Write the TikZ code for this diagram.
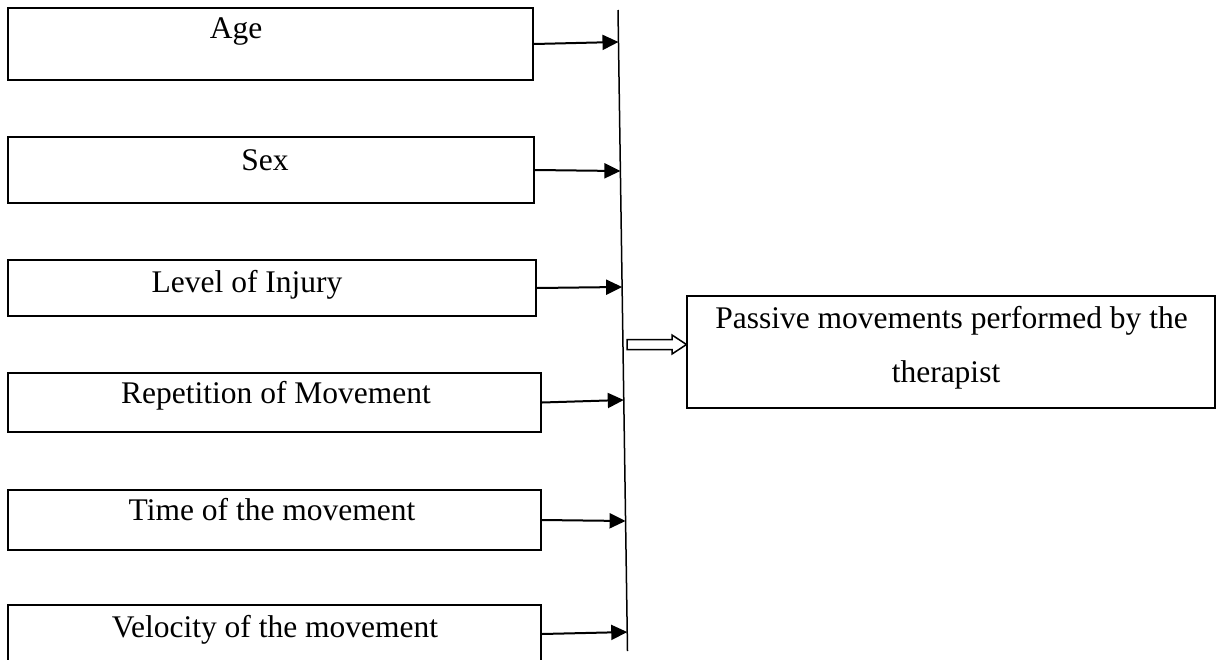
\documentclass[tikz,border=0pt]{standalone}
\usepackage{fontspec}
\setmainfont{Liberation Serif}
\usetikzlibrary{arrows.meta,calc}
\begin{document}
\begin{tikzpicture}[x=1pt,y=-1pt,
  box/.style={draw=black,line width=2pt,rectangle,inner sep=0pt},
  lbl/.style={anchor=base,inner sep=0pt,font=\fontsize{31.5}{38}\selectfont},
  conn/.style={draw=black,line width=2pt,-{Triangle[length=16pt,width=15pt]}},
  hollow/.style={draw=black,line width=1.5pt,fill=white,line join=miter},
]
\useasboundingbox (0,0) rectangle (1218,659);
\clip (0,0) rectangle (1218,659);

% left boxes
\node[box,minimum width=525pt,minimum height=72pt] (b1) at (270.5,44) {};
\node[box,minimum width=526pt,minimum height=66pt] (b2) at (271,170) {};
\node[box,minimum width=528pt,minimum height=56pt] (b3) at (272,288) {};
\node[box,minimum width=533pt,minimum height=59pt] (b4) at (274.5,402.5) {};
\node[box,minimum width=533pt,minimum height=60pt] (b5) at (274.5,520) {};
\node[box,minimum width=533pt,minimum height=58pt] (b6) at (274.5,634) {};

% labels
\node[lbl] (t1) at (236,38) {Age};
\node[lbl] (t2) at (265,170) {Sex};
\node[lbl] (t3) at (247,292) {Level of Injury};
\node[lbl] (t4) at (276,403) {Repetition of Movement};
\node[lbl] (t5) at (272,520) {Time of the movement};
\node[lbl] (t6) at (275,637) {Velocity of the movement};

% vertical collector line
\coordinate (top) at (618,10);
\coordinate (bot) at (627.5,651);
\draw[black,line width=1.5pt] (top) -- (bot);

\coordinate (p1) at ($(top)!0.0499!(bot)$);
\coordinate (p2) at ($(top)!0.2512!(bot)$);
\coordinate (p3) at ($(top)!0.4321!(bot)$);
\coordinate (p4) at ($(top)!0.6084!(bot)$);
\coordinate (p5) at ($(top)!0.7972!(bot)$);
\coordinate (p6) at ($(top)!0.9704!(bot)$);

\draw[conn] (b1.east) -- (p1);
\draw[conn] (b2.east) -- (p2);
\draw[conn] (b3.east) -- (p3);
\draw[conn] (b4.east) -- (p4);
\draw[conn] (b5.east) -- (p5);
\draw[conn] (b6.east) -- (p6);

% right box
\node[box,minimum width=528pt,minimum height=112pt] (rb) at (951,352) {};
\node[lbl] (r1) at (951.5,328) {Passive movements performed by the};
\node[lbl] (r2) at (946,382) {therapist};

% hollow arrow
\draw[hollow] (627,339.5) -- (672,339.5) -- (672,335) -- (686.5,344.5)
  -- (672,354) -- (672,349.5) -- (627,349.5) -- cycle;
\end{tikzpicture}
\end{document}
